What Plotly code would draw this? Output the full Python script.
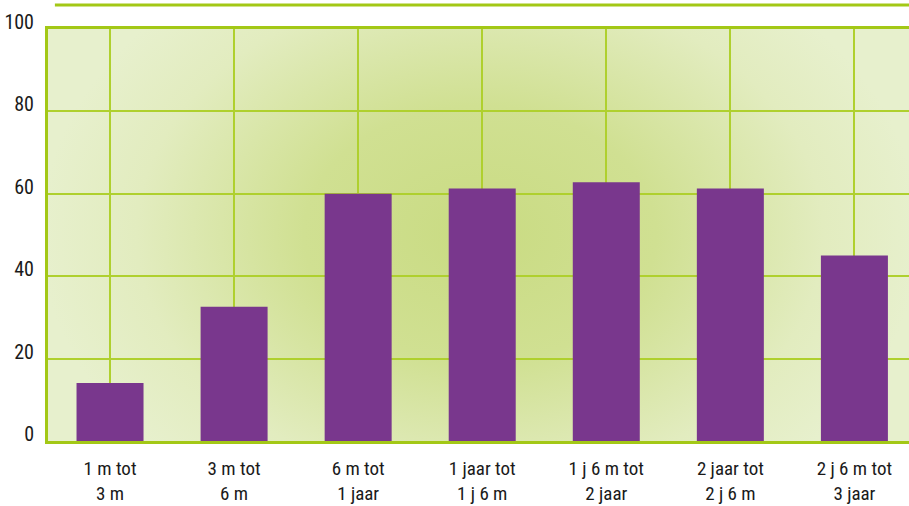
import plotly.graph_objects as go

# data
categories = ["1 m tot<br>3 m", "3 m tot<br>6 m", "6 m tot<br>1 jaar", "1 jaar tot<br>1 j 6 m",
              "1 j 6 m tot<br>2 jaar", "2 jaar tot<br>2 j 6 m", "2 j 6 m tot<br>3 jaar"]
values = [14.1, 32.6, 60.0, 61.3, 62.8, 61.3, 45.0]
y_ticks = [0, 20, 40, 60, 80, 100]

PURPLE = "#79378d"
LIME = "#a3c816"
GRID = "#afd02e"
INK = "#1a1a1a"
FONT = "Liberation Sans Narrow, Roboto Condensed, Arial Narrow, Roboto, sans-serif"

# radial green background as an svg data uri
BG_SVG = (
    "data:image/svg+xml;utf8,"
    "<svg xmlns='http://www.w3.org/2000/svg' width='861' height='412' preserveAspectRatio='none'>"
    "<defs><radialGradient id='g' cx='0.5' cy='0.5' r='0.5' fx='0.5' fy='0.5'>"
    "<stop offset='0' stop-color='%23c9db82'/>"
    "<stop offset='0.4' stop-color='%23d0e092'/>"
    "<stop offset='0.78' stop-color='%23e2ecbf'/>"
    "<stop offset='1' stop-color='%23e7f0cd'/>"
    "</radialGradient></defs>"
    "<rect width='861' height='412' fill='%23e7f0cd'/>"
    "<ellipse cx='432' cy='205' rx='440' ry='320' fill='url(%23g)'/>"
    "</svg>"
)

fig = go.Figure(go.Bar(
    x=categories, y=values, marker_color=PURPLE, marker_line_width=0, width=0.54,
    hovertemplate="%{x}: %{y}<extra></extra>"))

fig.add_layout_image(dict(
    source=BG_SVG, xref="paper", yref="paper", x=0, y=1, sizex=1, sizey=1,
    sizing="stretch", layer="below", xanchor="left", yanchor="top"))

# thin decorative rule at the very top
fig.add_shape(type="line", xref="paper", yref="paper", x0=0.008, x1=1, y0=1.058, y1=1.058,
              line=dict(color=LIME, width=3))

fig.update_xaxes(range=[-0.5, 6.44], showgrid=True, gridcolor=GRID, gridwidth=2,
                 showline=True, linecolor=LIME, linewidth=3, mirror=True, automargin=False,
                 ticks="", ticklabelstandoff=8, tickfont=dict(size=19, color=INK, family=FONT))
fig.update_yaxes(range=[0, 100], tickvals=y_ticks, showgrid=True, gridcolor=GRID, gridwidth=2,
                 zeroline=False, showline=True, linecolor=LIME, linewidth=3, automargin=False,
                 ticks="", ticklabelshift=-7, ticklabelstandoff=7,
                 tickfont=dict(size=20, color=INK, family=FONT))

fig.update_layout(
    width=909, height=506, margin=dict(l=48, r=0, t=29, b=65),
    paper_bgcolor="#ffffff", plot_bgcolor="#e7f0cd",
    font=dict(family=FONT, color=INK, size=20),
    showlegend=False, bargap=0.46,
)

fig.write_html("out.html", config={"displayModeBar": False},
               post_script="document.body.style.margin='0';")
